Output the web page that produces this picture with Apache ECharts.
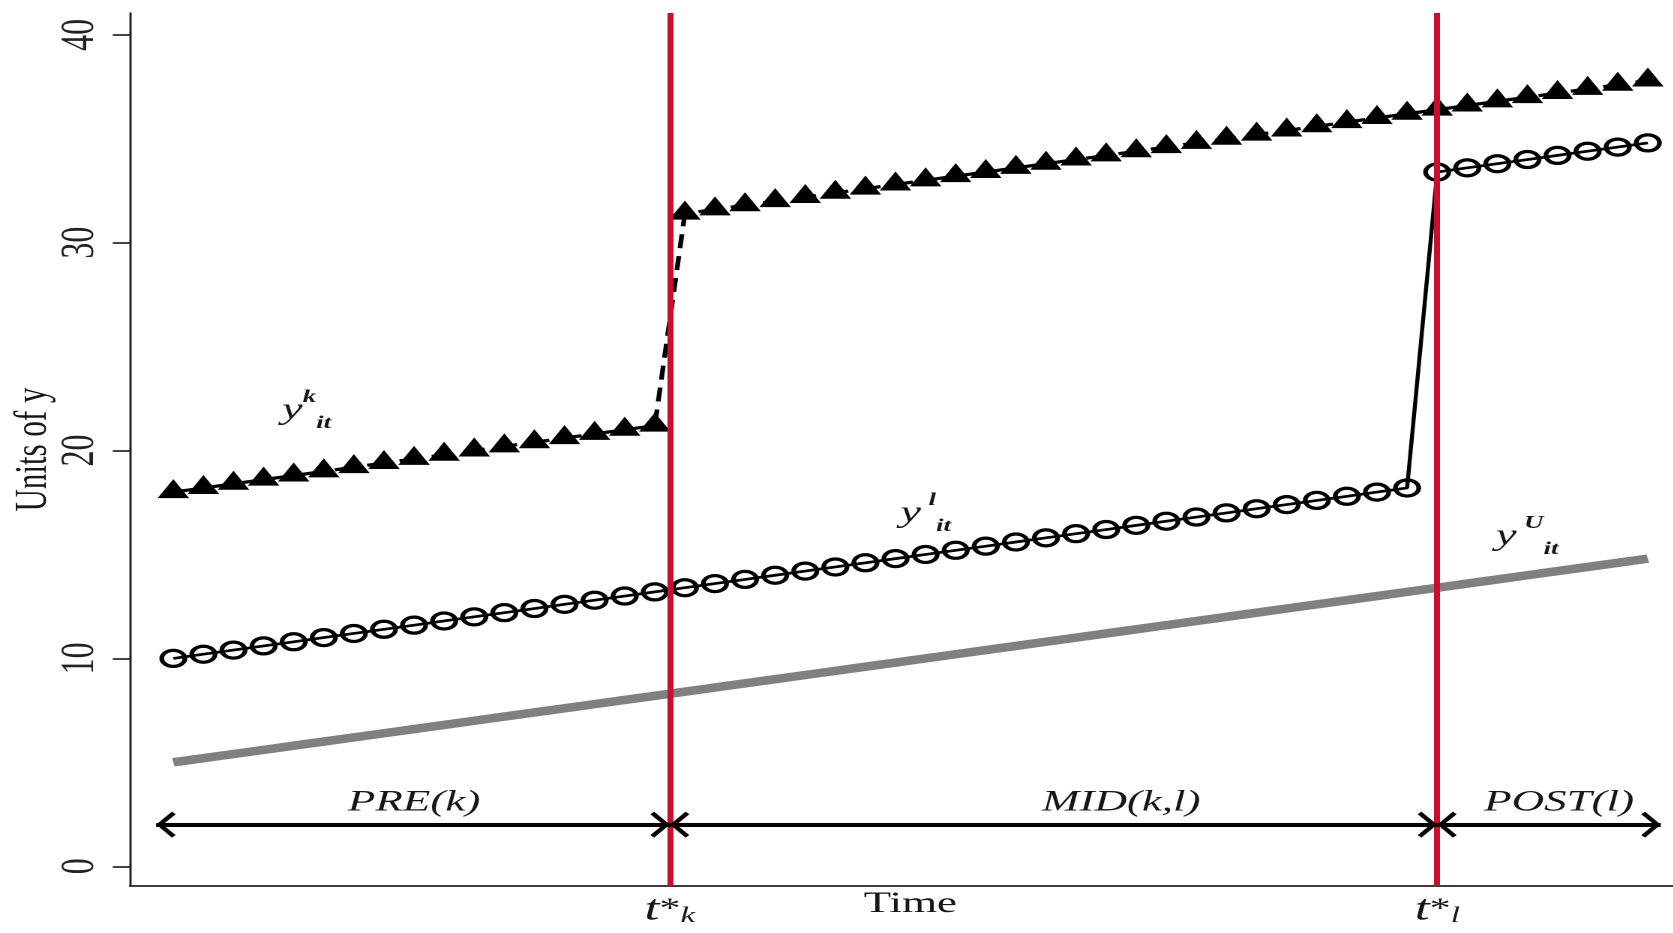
<!DOCTYPE html>
<html>
<head>
<meta charset="utf-8">
<script src="https://cdn.jsdelivr.net/npm/echarts@6/dist/echarts.min.js"></script>
<style>
html,body{margin:0;padding:0;background:#fff;overflow:hidden;}
#wrap{width:1673px;height:933px;overflow:hidden;position:relative;}
#chart{width:1115.33px;height:933px;transform:scaleX(1.5);transform-origin:0 0;}
</style>
</head>
<body>
<div id="wrap"><div id="chart"></div></div>
<script>
// ---------------- data ----------------
const periods = [1,2,3,4,5,6,7,8,9,10,11,12,13,14,15,16,17,18,19,20,21,22,23,24,25,
                 26,27,28,29,30,31,32,33,34,35,36,37,38,39,40,41,42,43,44,45,46,47,48,49,50];
// early-treated unit k (triangles, dashed)
const yK = [18.0,18.2,18.4,18.6,18.8,19.0,19.2,19.4,19.6,19.8,20.0,20.2,20.4,20.6,20.8,21.0,21.2,
            31.4,31.6,31.8,32.0,32.2,32.4,32.6,32.8,33.0,33.2,33.4,33.6,33.8,34.0,34.2,34.4,34.6,
            34.8,35.0,35.2,35.4,35.6,35.8,36.0,36.2,36.4,36.6,36.8,37.0,37.2,37.4,37.6,37.8];
// later-treated unit l (hollow circles, solid)
const yL = [10.0,10.2,10.4,10.6,10.8,11.0,11.2,11.4,11.6,11.8,12.0,12.2,12.4,12.6,12.8,13.0,13.2,
            13.4,13.6,13.8,14.0,14.2,14.4,14.6,14.8,15.0,15.2,15.4,15.6,15.8,16.0,16.2,16.4,16.6,
            16.8,17.0,17.2,17.4,17.6,17.8,18.0,18.2,
            33.4,33.6,33.8,34.0,34.2,34.4,34.6,34.8];
// untreated unit U (thick gray)
const yU = [5.0,5.2,5.4,5.6,5.8,6.0,6.2,6.4,6.6,6.8,7.0,7.2,7.4,7.6,7.8,8.0,8.2,8.4,8.6,8.8,
            9.0,9.2,9.4,9.6,9.8,10.0,10.2,10.4,10.6,10.8,11.0,11.2,11.4,11.6,11.8,12.0,12.2,12.4,
            12.6,12.8,13.0,13.2,13.4,13.6,13.8,14.0,14.2,14.4,14.6,14.8];
const yTicks = [0, 10, 20, 30, 40];
const treatTimes = [17.5, 43];       // t*_k, t*_l
const treatSubs = ['k', 'l'];
const periodNames = ['PRE(k)', 'MID(k,l)', 'POST(l)'];
const seriesSup = ['k', 'l', 'U'];

// ---------------- layout (annotation anchors in data space) ----------------
const arrowSpans = [[0.43, 17.5], [17.5, 43], [43, 50.43]];
const arrowLevel = 2.0;
const periodNameAt = [[9.0, 3.05], [32.5, 3.05], [47.05, 3.05]];
const seriesNameAt = [[5.43, 21.93], [26.0, 16.97], [45.99, 15.87]];

const FONT = '"Liberation Serif","Times New Roman",Times,serif';
const TXT = '#161616';
const CHEV = 'path://M12,0 L24,10 L21.6,12.4 L12,4.2 L2.4,12.4 L0,10 Z';

const chart = echarts.init(document.getElementById('chart'), null, {renderer: 'canvas', devicePixelRatio: 2});

const pairs = arr => periods.map((t, i) => [t, arr[i]]);

const supStyle = {fontFamily: FONT, fontStyle: 'italic', fontWeight: 'bold', fontSize: 18, lineHeight: 18, verticalAlign: 'top', color: TXT};
const option = {
  animation: false,
  backgroundColor: '#fff',
  grid: {left: 86.67, right: 0, top: 13, bottom: 47, outerBoundsMode: 'none'},
  tooltip: {show: false},
  xAxis: {
    type: 'value', min: -0.44, max: 50.82,
    name: 'Time', nameLocation: 'middle', nameGap: 3, nameMoveOverlap: false,
    nameTextStyle: {fontFamily: FONT, fontSize: 30, color: TXT, padding: [0, 0, 0, 12]},
    axisLine: {show: true, onZero: false, lineStyle: {color: '#222', width: 1.7}},
    axisTick: {show: false},
    splitLine: {show: false},
    axisLabel: {
      show: true, customValues: treatTimes, margin: 7,
      formatter: v => '{t|t}{s|*}{k|' + treatSubs[treatTimes.indexOf(v)] + '}',
      rich: {
        t: {fontFamily: FONT, fontStyle: 'italic', fontSize: 36, lineHeight: 34, color: TXT},
        s: {fontFamily: FONT, fontSize: 28, lineHeight: 34, color: TXT},
        k: {fontFamily: FONT, fontStyle: 'italic', fontSize: 22, lineHeight: 22, verticalAlign: 'bottom', color: TXT}
      }
    }
  },
  yAxis: {
    type: 'value', min: -0.95, max: 41.05,
    name: 'Units of y', nameLocation: 'middle', nameRotate: 90, nameGap: 49, nameMoveOverlap: false,
    nameTextStyle: {fontFamily: FONT, fontSize: 31, color: TXT},
    axisLine: {show: true, onZero: false, lineStyle: {color: '#222', width: 1.5}},
    axisTick: {show: true, customValues: yTicks, length: 11.5, lineStyle: {color: '#222', width: 1.7}},
    axisLabel: {show: true, customValues: yTicks, rotate: 90, margin: 17, fontFamily: FONT, fontSize: 32, color: '#222'},
    splitLine: {show: false}
  },
  series: [
    {
      name: 'treatment dates', type: 'line', data: [], z: 1, silent: true,
      markLine: {
        silent: true, symbol: ['none', 'none'], animation: false,
        label: {show: false},
        lineStyle: {color: '#c8102e', width: 4, type: 'solid'},
        emphasis: {disabled: true},
        data: treatTimes.map(t => ({xAxis: t}))
      }
    },
    {
      name: 'yU', type: 'line', data: pairs(yU), z: 2, silent: true,
      showSymbol: false, symbol: 'none',
      lineStyle: {color: '#808080', width: 8.5, cap: 'butt'},
      emphasis: {disabled: true}
    },
    {
      name: 'yl', type: 'line', data: pairs(yL), z: 3, silent: true,
      symbol: 'circle', symbolSize: [15.5, 16], showSymbol: true,
      itemStyle: {color: 'rgba(0,0,0,0)', borderColor: '#000', borderWidth: 3.2},
      lineStyle: {color: '#000', width: 2.7},
      emphasis: {disabled: true}
    },
    {
      name: 'yk', type: 'line', data: pairs(yK), z: 4, silent: true,
      symbol: 'triangle', symbolSize: [21, 19], symbolOffset: [0, -3.5], showSymbol: true,
      itemStyle: {color: '#000'},
      lineStyle: {color: '#000', width: 3.2, type: [14, 8]},
      emphasis: {disabled: true}
    },
    {
      name: 'annotations', type: 'line', data: [], z: 5, silent: true,
      markLine: {
        silent: true, animation: false,
        symbol: [CHEV, CHEV],
        symbolSize: [26, 13],
        symbolOffset: [[0, 6.5], [0, 6.5]],
        label: {show: false},
        lineStyle: {color: '#000', width: 4, type: 'solid'},
        itemStyle: {color: '#000'},
        emphasis: {disabled: true},
        data: arrowSpans.map(s => [{coord: [s[0], arrowLevel]}, {coord: [s[1], arrowLevel]}])
      },
      markPoint: {
        silent: true, animation: false,
        symbol: 'rect', symbolSize: 1,
        itemStyle: {color: 'rgba(0,0,0,0)'},
        label: {
          show: true, position: 'inside',
          rich: {
            y: {fontFamily: FONT, fontStyle: 'italic', fontSize: 31, lineHeight: 44, color: TXT},
            sup: supStyle,
            supP: Object.assign({}, supStyle, {padding: [0, 0, 0, 5]}),
            sub: {fontFamily: FONT, fontStyle: 'italic', fontWeight: 'bold', fontSize: 18, lineHeight: 28, verticalAlign: 'bottom', color: TXT},
            per: {fontFamily: FONT, fontStyle: 'italic', fontSize: 30, lineHeight: 32, color: TXT}
          }
        },
        data: [].concat(
          seriesSup.map((s, i) => ({
            name: 'y' + s, coord: seriesNameAt[i],
            label: {formatter: '{y|y}{' + (i === 0 ? 'sup' : 'supP') + '|' + s + '}{sub|it}'}
          })),
          periodNames.map((p, i) => ({
            name: p, coord: periodNameAt[i],
            label: {formatter: '{per|' + p + '}'}
          }))
        )
      }
    }
  ]
};
chart.setOption(option);
</script>
</body>
</html>
